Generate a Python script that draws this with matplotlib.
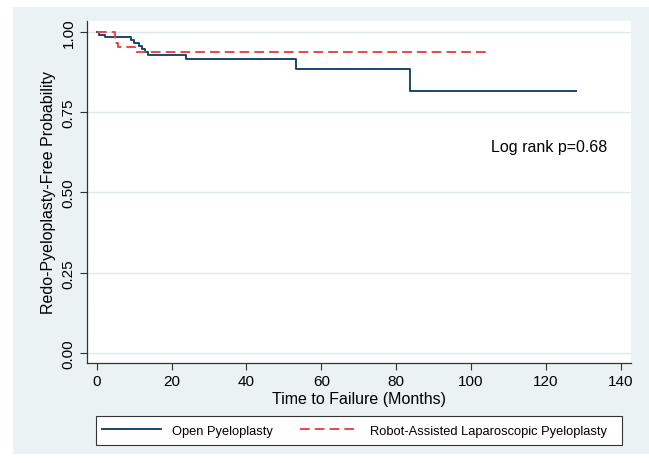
import matplotlib.pyplot as plt
from matplotlib.patches import Rectangle
from matplotlib.lines import Line2D

plt.rcParams['font.family'] = ['Liberation Sans', 'DejaVu Sans']

# Kaplan-Meier step points (time in months, survival)
open_time = [0, 0.5, 2.3, 9.2, 10.1, 11.2, 12.1, 13.0, 13.7, 23.9, 53.2, 83.7, 128]
open_surv = [1.0, 0.991, 0.984, 0.974, 0.966, 0.955, 0.946, 0.938, 0.928, 0.915, 0.883, 0.817, 0.817]

robot_time = [0, 4.8, 5.6, 10.2, 104]
robot_surv = [1.0, 0.966, 0.952, 0.936, 0.936]

x_ticks = [0, 20, 40, 60, 80, 100, 120, 140]
y_ticks = [0.0, 0.25, 0.5, 0.75, 1.0]
y_labels = ["0.00", "0.25", "0.50", "0.75", "1.00"]

navy = "#1a476f"
red = "#e8474b"
bg = "#eaf2f3"
grid = "#dfe9ec"

fig = plt.figure(figsize=(6.49, 4.64), dpi=100)
fig.patches.append(Rectangle((13 / 649, 1 - 455 / 464), 636 / 649, 447 / 464,
                             transform=fig.transFigure, facecolor=bg, edgecolor="none", zorder=-10))

ax = fig.add_axes([86.7 / 649, 1 - 364 / 464, (631 - 86.7) / 649, (364 - 22) / 464])
ax.set_facecolor("white")

ax.step(open_time, open_surv, where="post", color=navy, lw=1.4, label="Open Pyeloplasty")
ax.step(robot_time, robot_surv, where="post", color=red, lw=1.4, ls=(0, (5, 2.6)),
        label="Robot-Assisted Laparoscopic Pyeloplasty")

ax.set_xlim(-2.67, 142.75)
ax.set_ylim(-0.031, 1.034)
ax.set_xticks(x_ticks)
ax.set_yticks(y_ticks)
ax.set_yticklabels(y_labels, rotation=90, va="center")
ax.tick_params(axis="both", labelsize=11, length=5, width=0.8, color="#333333", pad=3)

ax.yaxis.grid(True, color=grid, lw=1)
ax.set_axisbelow(True)
for s in ["top", "right"]:
    ax.spines[s].set_visible(False)
for s in ["left", "bottom"]:
    ax.spines[s].set_color("#333333")
    ax.spines[s].set_linewidth(0.9)

ax.set_xlabel("Time to Failure (Months)", fontsize=11.5, labelpad=2)
ax.set_ylabel("Redo-Pyeloplasty-Free Probability", fontsize=11.5, labelpad=4)

ax.text(120.8, 0.642, "Log rank p=0.68", fontsize=11.5, ha="center", va="center")

# legend box below the plot
fig.patches.append(Rectangle((96 / 649, 1 - 446 / 464), 526 / 649, 29 / 464,
                             transform=fig.transFigure, facecolor="white",
                             edgecolor="#333333", lw=0.8, zorder=1))
handles = [Line2D([], [], color=navy, lw=1.4),
           Line2D([], [], color=red, lw=1.4, ls=(0, (5, 2.6)))]
fig.legend(handles, ["Open Pyeloplasty", "Robot-Assisted Laparoscopic Pyeloplasty"],
           loc="center left", bbox_to_anchor=(102 / 649, 1 - 431.5 / 464), ncol=2,
           frameon=False, fontsize=9.3, handlelength=4.6, handletextpad=0.8,
           columnspacing=2.1, borderpad=0, borderaxespad=0)

fig.savefig("out.png", dpi=100)
